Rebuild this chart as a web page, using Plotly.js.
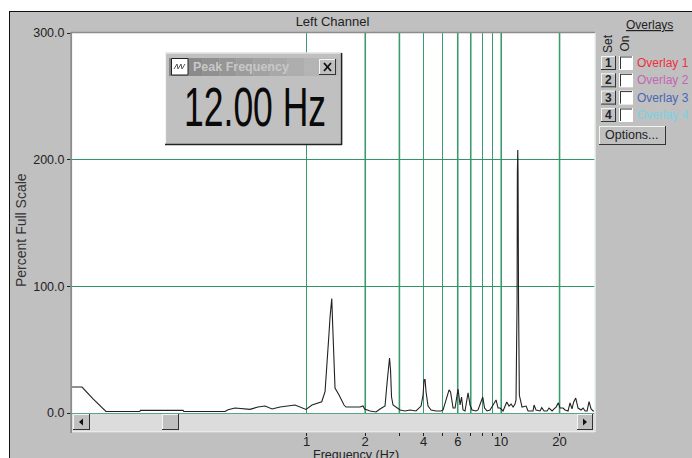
<!DOCTYPE html>
<html>
<head>
<meta charset="utf-8">
<script src="https://cdn.plot.ly/plotly-3.0.1.min.js"></script>
<style>
html,body{margin:0;padding:0;background:#fff;width:692px;height:458px;overflow:hidden}
#frame{position:absolute;left:9px;top:11px;width:682px;height:446px;border-left:1px solid #111;border-top:1px solid #111;background:#c0c0c0}
#chart{width:682px;height:446px}
</style>
</head>
<body>
<div id="frame"><div id="chart"></div></div>
<script>
const frequencyHz = [0.0623,0.0701,0.0799,0.0931,0.139,0.140,0.232,0.234,0.381,0.395,0.429,0.512,0.563,0.612,0.665,0.731,0.873,0.994,1.067,1.197,1.245,1.279,1.305,1.321,1.348,1.360,1.377,1.401,1.469,1.559,1.596,1.714,1.884,1.952,1.989,2.121,2.277,2.387,2.533,2.594,2.640,2.671,2.703,2.735,2.784,2.919,3.025,3.209,3.406,3.656,3.879,3.972,4.020,4.067,4.116,4.214,4.366,4.633,4.916,5.034,5.276,5.404,5.501,5.667,5.802,6.011,6.155,6.265,6.377,6.530,6.766,6.929,7.095,7.438,7.615,8.053,8.227,8.473,8.778,9.425,9.651,9.883,10.24,10.70,10.99,11.26,11.53,11.80,11.94,12.09,12.13,12.19,12.23,12.30,12.42,12.82,13.45,13.77,14.60,14.78,15.13,15.87,16.19,16.64,17.24,17.65,18.30,18.73,19.18,19.71,20.11,20.84,21.33,22.10,22.63,23.17,23.6,24.21,24.88,25.79,26.41,27.04,27.69,28.34,29.03,29.72,30.07];
const percentFullScale = [20.5,20.5,11.1,1.2,1.2,2.1,2.1,1.2,1.2,2.6,3.9,2.9,4.7,5.5,3.2,4.7,6.3,2.8,6.3,8.9,16.8,39.5,63,75.8,90.4,73.4,44.2,19.7,14.2,6.3,4.7,4.7,4.7,5.5,3.2,1.6,0.8,3.2,5.5,23.7,36.3,43.4,33.9,12.6,6.3,3.9,2.4,1.6,2.4,1.6,5.5,14.2,26.1,26.4,16.6,5.5,2.4,1.6,1.6,2.4,14.2,18.2,16.6,3.9,3.9,18.9,6.3,12.6,2.4,1.6,16,6.3,2.4,1.6,2.4,12.6,3.9,1.6,2.4,10.3,3.9,3.9,1.6,8.7,5.5,7.1,4.7,7.1,10.3,89,190,207.6,190,89,14,4.7,5.5,1.6,1.6,6.3,2.4,1.6,4.2,1.6,1.6,3.9,1.6,3.2,4.7,8,3.9,3.9,2.4,1.6,7.9,3.2,8.5,11.8,3.9,2.4,3.9,1.6,1.6,9,3.2,1.6,1.6];
const xTickValues = [1,2,3,4,5,6,7,8,9,10,20];
const xTickLabels = ["1","2","","4","","6","","","","10","20"];
const paleGridValues = [2,3,6,7,10,20];
const yTickValues = [0,100,200,300];
const yTickLabels = ["0.0","100.0","200.0","300.0"];
const overlayNames = ["Overlay 1","Overlay 2","Overlay 3","Overlay 4"];
const overlayColors = ["#ee2f40","#c266b4","#4a66b4","#78d2e4"];

// Widget chrome helpers: page pixels to paper fractions of the plot area (72..595, 33..432)
const px = x => (x - 72) / 523;
const py = y => (432 - y) / 399;
const shapes = [];
const annotations = [];
function rect(x0, y0, x1, y1, fill, line, w) {
  shapes.push({type:"rect", xref:"paper", yref:"paper", layer:"above",
    x0:px(x0), x1:px(x1), y0:py(y0), y1:py(y1), fillcolor:fill,
    line:{color:line || fill, width:line ? (w || 1) : 0}});
}
function seg(x0, y0, x1, y1, color, w) {
  shapes.push({type:"line", xref:"paper", yref:"paper", layer:"above",
    x0:px(x0), x1:px(x1), y0:py(y0), y1:py(y1), line:{color:color, width:w || 1}});
}
function tri(points, fill) {
  const d = points.map((p, i) => (i ? "L" : "M") + px(p[0]) + "," + py(p[1])).join(" ") + " Z";
  shapes.push({type:"path", xref:"paper", yref:"paper", layer:"above", path:d, fillcolor:fill, line:{color:fill, width:0}});
}
function label(x, y, text, size, color, anchor, extra) {
  annotations.push(Object.assign({xref:"paper", yref:"paper", x:px(x), y:py(y), text:text,
    showarrow:false, xanchor:anchor || "center", yanchor:"middle", borderpad:0,
    font:{family:"Liberation Sans, Arial, sans-serif", size:size, color:color}}, extra || {}));
}
function raised(x0, y0, x1, y1) {
  rect(x0, y0, x1, y1, "#c0c0c0");
  seg(x0, y0 + 0.5, x1, y0 + 0.5, "#f4f4f4");
  seg(x0 + 0.5, y0, x0 + 0.5, y1, "#f4f4f4");
  seg(x0, y1 - 0.5, x1, y1 - 0.5, "#333");
  seg(x1 - 0.5, y0, x1 - 0.5, y1, "#333");
}

// wider, paler grid lines where the reference's scan softened them
paleGridValues.forEach(v => shapes.push({type:"line", xref:"x", yref:"paper", layer:"between",
  x0:v, x1:v, y0:0, y1:1, line:{color:"#8cc4a8", width:2}}));

// plot frame
seg(71, 32.5, 595, 32.5, "#8c8c8c", 1.5);
seg(71.2, 32, 71.2, 433, "#8c8c8c", 1.8);
seg(595, 33, 595, 432, "#e8f2ec", 1.5);
// scrollbar
rect(72, 413.8, 595, 432, "#dcdcdc");
seg(72, 431.8, 595, 431.8, "#f0f0f0", 1);
raised(73, 414, 90, 430);
tri([[79,422],[83,418.5],[83,425.5]], "#111");
raised(162, 414, 179, 430);
raised(577, 414, 593, 430);
tri([[587,422],[583,418.5],[583,425.5]], "#111");

// Peak Frequency window
rect(165, 52.5, 342, 145, "#c0c0c0");
seg(165, 53, 342, 53, "#f4f4f4", 1.2);
seg(165.5, 53, 165.5, 145, "#f4f4f4", 1.2);
seg(165, 144.5, 342, 144.5, "#222", 1.5);
seg(341.6, 53, 341.6, 145, "#222", 1.5);
const titleSlabs = ["#848484","#8a8a8a","#909090","#969696","#9c9c9c","#a2a2a2","#a8a8a8","#aeaeae","#b4b4b4","#b8b8b8"];
titleSlabs.forEach((c, i) => rect(169 + i * 16.9, 58, 169 + (i + 1) * 16.9, 76, c));
rect(171.5, 58.5, 188, 75, "#fff", "#222", 1);
[[174,69,177,64],[177,64,178,69],[178,69,181,64],[181,64,182,69],[182,69,185,64]].forEach(s => seg(s[0], s[1], s[2], s[3], "#555", 1));
raised(319, 59, 336, 75);
seg(324, 63, 331, 71, "#111", 1.8);
seg(331, 63, 324, 71, "#111", 1.8);
label(192, 67, "<b>Peak Frequency</b>", 12.5, "#c8c8c8", "left");
label(255, 106, "12.00 Hz", 56, "#0a0a0a", "center");

// Overlays panel
label(649, 25, "<u>Overlays</u>", 12, "#222");
label(608, 44, "Set", 12, "#222", "center", {textangle:-90});
label(624.5, 44, "On", 12, "#222", "center", {textangle:-90});
const rowY = [63, 80.3, 97.6, 115];
overlayNames.forEach((name, i) => {
  const y = rowY[i];
  raised(601, y - 7, 616, y + 7);
  label(608.5, y, "<b>" + (i + 1) + "</b>", 12, "#222");
  rect(619, y - 7, 633, y + 7, "#fff");
  seg(620, y - 6, 632, y - 6, "#333", 1);
  seg(620.5, y - 6, 620.5, y + 6, "#333", 1);
  label(636, y, name, 12, overlayColors[i], "left");
});
raised(599, 126, 666, 145);
label(632, 135, "Options...", 12.5, "#222");

// axis titles placed by hand: the reference's are off the plot centre
label(356, 455, "Frequency (Hz)", 12.5, "#222");
label(21, 230, "Percent Full Scale", 14, "#333", "center", {textangle:-90});

const data = [{type:"scatter", mode:"lines", x:frequencyHz, y:percentFullScale,
  line:{color:"#222222", width:1.1}, hoverinfo:"x+y", showlegend:false}];

const layout = {
  width:682, height:446,
  margin:{l:62, r:97, t:21, b:26, pad:0},
  paper_bgcolor:"#c0c0c0", plot_bgcolor:"#ffffff",
  font:{family:"Liberation Sans, Arial, sans-serif", size:12.5, color:"#222"},
  showlegend:false,
  title:{text:"Left Channel", font:{size:13, color:"#222"}, x:px(332.5), xref:"paper", xanchor:"center", y:0.978, yanchor:"middle"},
  xaxis:{type:"log", range:[-1.2057, 1.483], tickmode:"array", tickvals:xTickValues, ticktext:xTickLabels,
    ticks:"outside", ticklen:3, tickcolor:"#222", tickwidth:1, showgrid:true, gridcolor:"#3a9c6e", gridwidth:1,
    zeroline:false, showline:false, tickfont:{size:13, color:"#222"}, automargin:false, ticklabelstandoff:-6},
  yaxis:{range:[-15, 300], tickmode:"array", tickvals:yTickValues, ticktext:yTickLabels,
    ticks:"outside", ticklen:4, tickcolor:"#222", tickwidth:1, showgrid:true, gridcolor:"#2f9466", gridwidth:1,
    zeroline:false, showline:false, tickfont:{size:12.5, color:"#222"}, automargin:false},
  shapes:shapes, annotations:annotations
};

Plotly.newPlot("chart", data, layout, {displayModeBar:false, staticPlot:true}).then(() => {
  document.querySelectorAll("#chart .annotation-text").forEach(t => {
    if (t.textContent === "12.00 Hz") {
      t.setAttribute("textLength", "142");
      t.setAttribute("lengthAdjust", "spacingAndGlyphs");
    }
  });
});
</script>
</body>
</html>
